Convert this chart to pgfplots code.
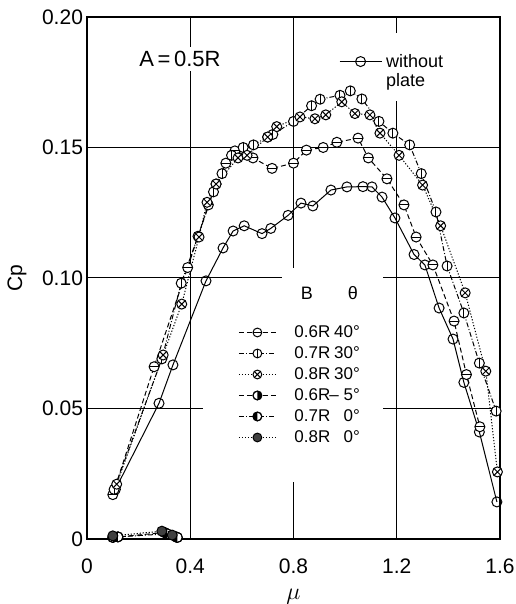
\documentclass[border=0pt]{standalone}
\usepackage{fontspec}
\setmainfont{Liberation Sans}
\usepackage{pgfplots}
\pgfplotsset{compat=1.18}

\pgfdeclareplotmark{ominus}{%
  \pgfpathcircle{\pgfpointorigin}{\pgfplotmarksize}\pgfusepathqfillstroke
  \pgfpathmoveto{\pgfqpoint{-\pgfplotmarksize}{0pt}}%
  \pgfpathlineto{\pgfqpoint{\pgfplotmarksize}{0pt}}%
  \pgfusepathqstroke}
\pgfdeclareplotmark{ovbar}{%
  \pgfpathcircle{\pgfpointorigin}{\pgfplotmarksize}\pgfusepathqfillstroke
  \pgfpathmoveto{\pgfqpoint{0pt}{-\pgfplotmarksize}}%
  \pgfpathlineto{\pgfqpoint{0pt}{\pgfplotmarksize}}%
  \pgfusepathqstroke}
\pgfdeclareplotmark{otimes}{%
  \pgfpathcircle{\pgfpointorigin}{\pgfplotmarksize}\pgfusepathqfillstroke
  \pgfpathmoveto{\pgfqpoint{-0.7071\pgfplotmarksize}{-0.7071\pgfplotmarksize}}%
  \pgfpathlineto{\pgfqpoint{0.7071\pgfplotmarksize}{0.7071\pgfplotmarksize}}%
  \pgfpathmoveto{\pgfqpoint{-0.7071\pgfplotmarksize}{0.7071\pgfplotmarksize}}%
  \pgfpathlineto{\pgfqpoint{0.7071\pgfplotmarksize}{-0.7071\pgfplotmarksize}}%
  \pgfusepathqstroke}
\pgfdeclareplotmark{ohalfright}{%
  \pgfpathcircle{\pgfpointorigin}{\pgfplotmarksize}\pgfusepathqfillstroke
  \begin{pgfscope}\pgfsetfillcolor{black}%
  \pgfpathmoveto{\pgfqpoint{0pt}{\pgfplotmarksize}}%
  \pgfpatharc{90}{-90}{\pgfplotmarksize}\pgfpathclose\pgfusepathqfill
  \end{pgfscope}%
  \pgfpathcircle{\pgfpointorigin}{\pgfplotmarksize}\pgfusepathqstroke}
\pgfdeclareplotmark{ohalfleft}{%
  \pgfpathcircle{\pgfpointorigin}{\pgfplotmarksize}\pgfusepathqfillstroke
  \begin{pgfscope}\pgfsetfillcolor{black}%
  \pgfpathmoveto{\pgfqpoint{0pt}{\pgfplotmarksize}}%
  \pgfpatharc{90}{270}{\pgfplotmarksize}\pgfpathclose\pgfusepathqfill
  \end{pgfscope}%
  \pgfpathcircle{\pgfpointorigin}{\pgfplotmarksize}\pgfusepathqstroke}

\tikzset{
  sdash/.style={dash pattern=on 2.5pt off 1.5pt},
  sdashdot/.style={dash pattern=on 2.5pt off 1pt on 0.5pt off 1pt},
  sdot/.style={dash pattern=on 0.6pt off 0.9pt},
}

\begin{document}
\begin{tikzpicture}
\path[use as bounding box] (-43.5pt,-32.5pt) rectangle (214pt,269.5pt);
\begin{axis}[
  scale only axis, width=206.5pt, height=261pt,
  xmin=0, xmax=1.6, ymin=0, ymax=0.2,
  xtick={0,0.4,0.8,1.2,1.6}, xticklabels={0,0.4,0.8,1.2,1.6},
  ytick={0,0.05,0.1,0.15,0.2}, yticklabels={0\hspace{6.5pt},0.05,0.10,0.15,0.20},
  grid=major, major grid style={black, line width=0.5pt},
  major tick length=0pt,
  axis line style={line width=0.9pt},
  tick label style={font=\fontsize{10.5}{12}\selectfont},
  xticklabel style={yshift=-6.5pt},
  yticklabel style={xshift=1.5pt},
  xlabel={$\mu$}, ylabel={Cp},
  xlabel style={at={(axis description cs:0.5,0)}, anchor=center, yshift=-29pt, font=\fontsize{13}{15}\selectfont},
  ylabel style={at={(axis description cs:0,0.5)}, anchor=center, yshift=35pt, font=\fontsize{10.5}{12}\selectfont},
  every axis plot/.append style={black, line width=0.5pt, mark size=2.5pt},
  legend style={at={(axis cs:0.585,0.0833)}, anchor=north west, fill=white, draw=none,
    inner sep=0pt, font=\fontsize{8.5}{10}\selectfont,
    nodes={text height=6pt, text depth=1pt, inner ysep=1.75pt},
    /tikz/every odd column/.append style={column sep=7pt}},
  legend cell align=left,
  legend image code/.code={\draw[mark repeat=2,mark phase=2,mark size=2.2pt,#1] plot coordinates {(0pt,0pt)(9.25pt,0pt)(18.5pt,0pt)};},
]
% white areas behind legends / text
\fill[white] (axis cs:0.449,0.0218) rectangle (axis cs:1.147,0.095);
\fill[white] (axis cs:0.755,0.095) rectangle (axis cs:1.147,0.1038);
\fill[white] (axis cs:0.961,0.168) rectangle (axis cs:1.451,0.194);

% without plate
\addplot[solid, mark=o, mark options={solid, fill=white}, forget plot] coordinates {
(0.11,0.019)(0.279,0.052)(0.333,0.0667)(0.461,0.0989)(0.527,0.1115)(0.566,0.118)
(0.609,0.120)(0.678,0.117)(0.712,0.119)(0.779,0.124)(0.829,0.1287)(0.875,0.1276)
(0.945,0.1337)(1.007,0.1349)(1.069,0.135)(1.104,0.1349)(1.143,0.131)(1.193,0.123)
(1.267,0.109)(1.309,0.105)(1.364,0.0885)(1.418,0.0766)(1.46,0.060)(1.52,0.041)(1.588,0.0142)};

% 0.6R 40
\addplot[sdash, mark=ominus, mark options={solid, fill=white}] coordinates {
(0.10,0.017)(0.26,0.066)(0.39,0.104)(0.47,0.128)(0.50,0.136)(0.538,0.144)(0.573,0.1487)
(0.643,0.146)(0.717,0.142)(0.80,0.144)(0.85,0.149)(0.915,0.150)(0.968,0.152)(1.05,0.1536)
(1.09,0.146)(1.162,0.138)(1.228,0.128)(1.275,0.1157)(1.34,0.105)(1.422,0.0835)(1.47,0.063)(1.522,0.043)};
\addlegendentry{\makebox[2.15em][l]{0.6R}\makebox[1.7em][r]{40°}}

% 0.7R 30
\addplot[sdashdot, mark=ovbar, mark options={solid, fill=white}] coordinates {
(0.105,0.019)(0.29,0.069)(0.365,0.098)(0.43,0.116)(0.49,0.133)(0.523,0.140)(0.56,0.147)
(0.605,0.150)(0.645,0.151)(0.70,0.154)(0.72,0.155)(0.80,0.160)(0.87,0.166)(0.903,0.1685)
(0.98,0.170)(1.02,0.1717)(1.065,0.1686)(1.131,0.160)(1.185,0.1555)(1.25,0.151)(1.295,0.140)
(1.352,0.1253)(1.395,0.1046)(1.46,0.0866)(1.52,0.0674)(1.585,0.049)};
\addlegendentry{\makebox[2.15em][l]{0.7R}\makebox[1.7em][r]{30°}}

% 0.8R 30
\addplot[sdot, mark=otimes, mark options={solid, fill=white}] coordinates {
(0.115,0.021)(0.295,0.0705)(0.367,0.090)(0.434,0.1157)(0.465,0.129)(0.50,0.136)(0.585,0.146)
(0.62,0.147)(0.70,0.154)(0.735,0.158)(0.825,0.1617)(0.883,0.161)(0.925,0.1625)(0.987,0.1675)
(1.038,0.163)(1.096,0.1625)(1.135,0.1555)(1.209,0.147)(1.30,0.1356)(1.37,0.120)(1.465,0.0943)
(1.545,0.0643)(1.59,0.0257)};
\addlegendentry{\makebox[2.15em][l]{0.8R}\makebox[1.7em][r]{30°}}

% 0.6R -5
\addplot[sdash, mark=ohalfright, mark options={solid, fill=white}] coordinates {
(0.10,0.0006)(0.30,0.0025)(0.345,0.0008)};
\addlegendentry{\makebox[2.15em][l]{0.6R}\makebox[1.7em][r]{– 5°}}

% 0.7R 0
\addplot[sdashdot, mark=ohalfleft, mark options={solid, fill=white}] coordinates {
(0.12,0.0008)(0.31,0.002)(0.35,0.0006)};
\addlegendentry{\makebox[2.15em][l]{0.7R}\makebox[1.7em][r]{0°}}

% 0.8R 0
\addplot[sdot, mark=*, mark options={solid, fill=black!75}] coordinates {
(0.10,0.0012)(0.29,0.003)(0.33,0.0015)};
\addlegendentry{\makebox[2.15em][l]{0.8R}\makebox[1.7em][r]{0°}}

\node[fill=white, inner sep=2pt, font=\fontsize{11}{13}\selectfont] at (axis cs:0.36,0.184) {A\,=\,0.5R};
\node[font=\fontsize{9}{11}\selectfont] at (axis cs:0.852,0.0943) {B};
\node[font=\fontsize{9}{11}\selectfont] at (axis cs:1.030,0.0943) {θ};
\end{axis}

\begin{axis}[
  scale only axis, width=206.5pt, height=261pt,
  xmin=0, xmax=1.6, ymin=0, ymax=0.2, hide axis,
  legend style={at={(axis cs:0.975,0.188)}, anchor=north west, fill=white, draw=none,
    inner sep=0pt, font=\fontsize{9}{10.5}\selectfont},
  legend cell align=left,
  legend image code/.code={\draw[mark repeat=2,mark phase=2,#1] plot coordinates {(0pt,0pt)(10.5pt,0pt)(21pt,0pt)};},
]
\addlegendimage{black, solid, line width=0.5pt, mark=o, mark size=2.5pt, mark options={solid, fill=white}}
\addlegendentry{\begin{tabular}[t]{@{}l@{}}without\\[-1pt]plate\end{tabular}}
\end{axis}
\end{tikzpicture}
\end{document}
